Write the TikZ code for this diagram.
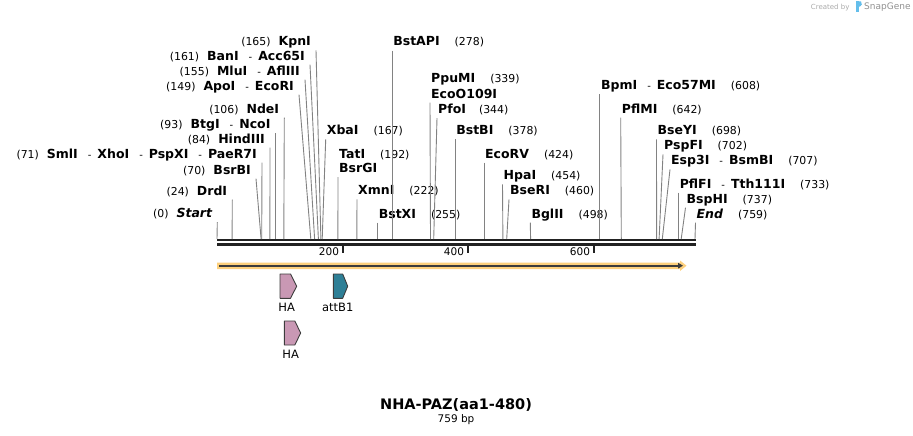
\documentclass[tikz,border=0pt]{standalone}
\usepackage{fontspec}
\setmainfont{DejaVu Sans}
\usetikzlibrary{arrows.meta}
\definecolor{leadgray}{RGB}{130,130,130}
\definecolor{bbone}{RGB}{34,34,34}
\definecolor{featorange}{RGB}{253,208,125}
\definecolor{featdark}{RGB}{60,60,60}
\definecolor{hapink}{RGB}{201,152,180}
\definecolor{attteal}{RGB}{46,127,150}
\definecolor{credgray}{RGB}{170,170,170}
\definecolor{snapblue}{RGB}{100,190,235}
\newcommand{\cutpos}[1]{{\fontsize{10.9}{12}\selectfont(#1)}}
\newcommand{\enzname}[1]{{\fontsize{12.5}{14}\selectfont\bfseries #1}}
\newcommand{\enzsep}{\hspace{10pt}-\hspace{6pt}}

\begin{document}
\begin{tikzpicture}[x=1pt,y=-1pt,line join=round,
	lftlbl/.style={anchor=east,inner xsep=5pt,inner ysep=2pt,text height=8.5pt,text depth=2.5pt},
	rgtlbl/.style={anchor=west,inner xsep=1pt,inner ysep=2pt,text height=8.5pt,text depth=2.5pt},
	leader/.style={leadgray,line width=0.9pt},
	ticklbl/.style={font=\fontsize{10.5}{12}\selectfont},
	featlbl/.style={font=\fontsize{11.5}{13}\selectfont},
	featbox/.style={draw=featdark,line width=0.9pt}]
	\useasboundingbox (0,0) rectangle (913,436);
	% cut site positions on the backbone (217 + bp*0.6298)
	\foreach \p/\x in {0/217,24/232.1,70/261.1,71/261.7,84/269.9,93/275.6,106/283.8,149/310.8,155/314.6,
		161/318.4,165/320.9,167/322.2,192/337.9,222/356.8,255/377.6,278/392.1,339/430.5,344/433.7,378/455.1,
		424/484.0,454/502.9,460/506.7,498/530.6,608/599.9,642/621.3,698/656.6,702/659.1,707/662.3,733/678.6,
		737/681.2,759/695.0}
		\coordinate (s\p) at (\x,239);
	% backbone
	\draw [bbone,line width=2.6pt] (217,240)-- (695.7,240);
	\draw [bbone,line width=2.6pt] (217,244.5)-- (695.7,244.5);
	\draw [bbone,line width=2pt] (343.3,245.5)-- (343.3,252.5);
	\draw [bbone,line width=2pt] (467.7,245.5)-- (467.7,252.5);
	\draw [bbone,line width=2pt] (594,245.5)-- (594,252.5);
	\node[ticklbl] (t200) at (329,252) {200};
	\node[ticklbl] (t400) at (454,252) {400};
	\node[ticklbl] (t600) at (580,252) {600};
	% sites left of their leader
	\node[lftlbl] (kpn) at (316,42.7) {\cutpos{165}\hspace{8pt}\enzname{KpnI}};
	\node[lftlbl] (ban) at (310,57) {\cutpos{161}\hspace{8pt}\enzname{BanI}\enzsep\enzname{Acc65I}};
	\node[lftlbl] (mlu) at (305,72) {\cutpos{155}\hspace{8pt}\enzname{MluI}\enzsep\enzname{AflIII}};
	\node[lftlbl] (apo) at (299,87) {\cutpos{149}\hspace{8pt}\enzname{ApoI}\enzsep\enzname{EcoRI}};
	\node[lftlbl] (nde) at (284.3,110) {\cutpos{106}\hspace{8pt}\enzname{NdeI}};
	\node[lftlbl] (btg) at (275.6,125.7) {\cutpos{93}\hspace{8pt}\enzname{BtgI}\enzsep\enzname{NcoI}};
	\node[lftlbl] (hind) at (270,140) {\cutpos{84}\hspace{8pt}\enzname{HindIII}};
	\node[lftlbl] (sml) at (262,155) {\cutpos{71}\hspace{8pt}\enzname{SmlI}\enzsep\enzname{XhoI}\enzsep\enzname{PspXI}\enzsep\enzname{PaeR7I}};
	\node[lftlbl] (bsrb) at (256,171) {\cutpos{70}\hspace{8pt}\enzname{BsrBI}};
	\node[lftlbl] (drd) at (232.3,192) {\cutpos{24}\hspace{8pt}\enzname{DrdI}};
	\node[lftlbl] (start) at (217.3,214.5) {\cutpos{0}\hspace{8pt}\enzname{\itshape Start}};
	\draw[leader] (kpn.south east)-- (s165);
	\draw[leader] (ban.south east)-- (s161);
	\draw[leader] (mlu.south east)-- (s155);
	\draw[leader] (apo.south east)-- (s149);
	\draw[leader] (nde.south east)-- (s106);
	\draw[leader] (btg.south east)-- (s93);
	\draw[leader] (hind.south east)-- (s84);
	\draw[leader] (sml.south east)-- (s71);
	\draw[leader] (bsrb.south east)-- (s70);
	\draw[leader] (drd.south east)-- (s24);
	\draw[leader] (start.south east)-- (s0);
	% sites right of their leader
	\node[rgtlbl] (xba) at (325.7,131.7) {\enzname{XbaI}\hspace{15pt}\cutpos{167}};
	\node[rgtlbl] (tat) at (338,155) {\enzname{TatI}\hspace{15pt}\cutpos{192}};
	\node[rgtlbl] (bsrg) at (338,169.5) {\enzname{BsrGI}};
	\node[rgtlbl] (xmn) at (357,191.7) {\enzname{XmnI}\hspace{15pt}\cutpos{222}};
	\node[rgtlbl] (bstx) at (377.6,215) {\enzname{BstXI}\hspace{15pt}\cutpos{255}};
	\node[rgtlbl] (bstap) at (392.1,43) {\enzname{BstAPI}\hspace{15pt}\cutpos{278}};
	\node[rgtlbl] (ppu) at (430,80) {\enzname{PpuMI}\hspace{15pt}\cutpos{339}};
	\node[rgtlbl] (ecoo) at (430,95) {\enzname{EcoO109I}};
	\node[rgtlbl] (pfo) at (437,110.5) {\enzname{PfoI}\hspace{13pt}\cutpos{344}};
	\node[rgtlbl] (bstb) at (455.1,131.7) {\enzname{BstBI}\hspace{15pt}\cutpos{378}};
	\node[rgtlbl] (ecorv) at (484,155) {\enzname{EcoRV}\hspace{15pt}\cutpos{424}};
	\node[rgtlbl] (hpa) at (502.5,176.7) {\enzname{HpaI}\hspace{15pt}\cutpos{454}};
	\node[rgtlbl] (bser) at (509,191.7) {\enzname{BseRI}\hspace{15pt}\cutpos{460}};
	\node[rgtlbl] (bgl) at (530.3,215) {\enzname{BglII}\hspace{15pt}\cutpos{498}};
	\node[rgtlbl] (bpm) at (599.9,86.7) {\enzname{BpmI}\enzsep\enzname{Eco57MI}\hspace{15pt}\cutpos{608}};
	\node[rgtlbl] (pflm) at (620.7,110) {\enzname{PflMI}\hspace{15pt}\cutpos{642}};
	\node[rgtlbl] (bsey) at (656.5,131.7) {\enzname{BseYI}\hspace{15pt}\cutpos{698}};
	\node[rgtlbl] (pspf) at (663,146.7) {\enzname{PspFI}\hspace{15pt}\cutpos{702}};
	\node[rgtlbl] (esp) at (670,161.7) {\enzname{Esp3I}\enzsep\enzname{BsmBI}\hspace{15pt}\cutpos{707}};
	\node[rgtlbl] (pflf) at (678.6,185) {\enzname{PflFI}\enzsep\enzname{Tth111I}\hspace{15pt}\cutpos{733}};
	\node[rgtlbl] (bsph) at (685.5,200) {\enzname{BspHI}\hspace{15pt}\cutpos{737}};
	\node[rgtlbl] (endn) at (695.5,215) {\enzname{\itshape End}\hspace{15pt}\cutpos{759}};
	\draw[leader] (xba.south west)-- (s167);
	\draw[leader] (bsrg.south west)-- (s192);
	\draw[leader] (xmn.south west)-- (s222);
	\draw[leader] (bstx.south west)-- (s255);
	\draw[leader] (bstap.south west)-- (s278);
	\draw[leader] (ecoo.south west)-- (s339);
	\draw[leader] (pfo.south west)-- (s344);
	\draw[leader] (bstb.south west)-- (s378);
	\draw[leader] (ecorv.south west)-- (s424);
	\draw[leader] (hpa.south west)-- (s454);
	\draw[leader] (bser.south west)-- (s460);
	\draw[leader] (bgl.south west)-- (s498);
	\draw[leader] (bpm.south west)-- (s608);
	\draw[leader] (pflm.south west)-- (s642);
	\draw[leader] (bsey.south west)-- (s698);
	\draw[leader] (pspf.south west)-- (s702);
	\draw[leader] (esp.south west)-- (s707);
	\draw[leader] (pflf.south west)-- (s733);
	\draw[leader] (bsph.south west)-- (s737);
	\draw[leader] (endn.south west)-- (s759);
	% full length feature
	\fill[featorange] (217,262.5)-- (680,262.5)-- (680,260.5)-- (686.5,265.7)-- (680,271)-- (680,269)-- (217,269)-- cycle;
	\draw[featdark,line width=1.6pt,-{Triangle[length=5pt,width=5.5pt]}] (219,265.7)-- (683,265.7);
	% small features
	\draw[featbox,fill=hapink] (280,274)-- (290.5,274)-- (296.7,286.2)-- (290.5,298.3)-- (280,298.3)-- cycle;
	\draw[featbox,fill=attteal] (333.3,274)-- (342.7,274)-- (347.7,286.2)-- (342.7,298.3)-- (333.3,298.3)-- cycle;
	\draw[featbox,fill=hapink] (284.3,321)-- (294.8,321)-- (300.7,333)-- (294.8,345)-- (284.3,345)-- cycle;
	\node[featlbl] (ha1) at (286.7,307.7) {HA};
	\node[featlbl] (att) at (337.7,307.7) {attB1};
	\node[featlbl] (ha2) at (290.7,354.3) {HA};
	% title
	\node[font=\fontsize{14.5}{16}\selectfont\bfseries] (title) at (456,405) {NHA-PAZ(aa1-480)};
	\node[font=\fontsize{10.5}{12}\selectfont] (len) at (456,420) {759 bp};
	% credit
	\node[credgray,font=\fontsize{7}{8}\selectfont,anchor=east] (made) at (853,7.5) {Created by};
	\fill[snapblue] (856,1.5) rectangle (858.5,12.5);
	\fill[snapblue] (858.5,1.5) -- (861,1.5) .. controls (863,3) and (862,6) .. (858.5,7) -- cycle;
	\node[credgray!85!black,font=\fontsize{9}{10}\selectfont,anchor=west,inner xsep=0pt] (snap) at (864,7.5) {SnapGene};
\end{tikzpicture}
\end{document}
